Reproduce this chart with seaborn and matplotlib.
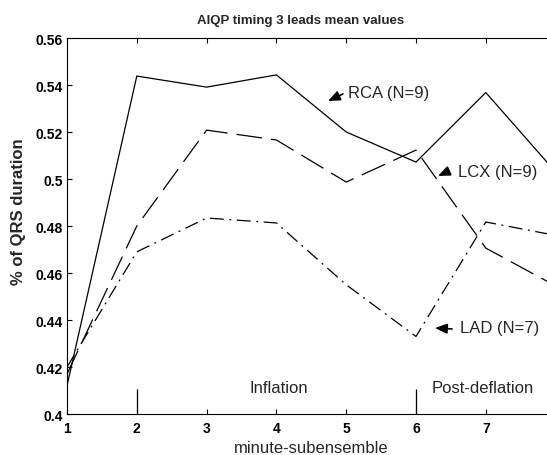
import numpy as np
import pandas as pd
import matplotlib
matplotlib.use("Agg")
import matplotlib.pyplot as plt
import seaborn as sns

# ---- data ----
minutes = [1, 2, 3, 4, 5, 6, 7, 8]
rca = [0.412, 0.5438, 0.5391, 0.5443, 0.520, 0.5072, 0.5368, 0.503]
lcx = [0.417, 0.480, 0.5208, 0.5166, 0.4987, 0.5123, 0.4706, 0.4545]
lad = [0.420, 0.469, 0.4834, 0.4813, 0.455, 0.433, 0.4817, 0.476]
series_names = ["RCA (N=9)", "LCX (N=9)", "LAD (N=7)"]
x_ticks = [1, 2, 3, 4, 5, 6, 7]
y_ticks = [0.40, 0.42, 0.44, 0.46, 0.48, 0.50, 0.52, 0.54, 0.56]
y_tick_labels = ["0.4", "0.42", "0.44", "0.46", "0.48", "0.5", "0.52", "0.54", "0.56"]
phase_marks = [2, 6]
phase_labels = ["Inflation", "Post-deflation"]
phase_label_x = [4.04, 6.95]

df = pd.DataFrame({
    "minute": minutes * 3,
    "value": rca + lcx + lad,
    "lead": [series_names[0]] * 8 + [series_names[1]] * 8 + [series_names[2]] * 8,
})

sns.set_theme(style="white")
plt.rcParams["font.family"] = ["Liberation Sans", "DejaVu Sans"]
plt.rcParams["lines.scale_dashes"] = False

fig = plt.figure(figsize=(5.47, 4.56), dpi=100)
W, H = 547, 456
ax = fig.add_axes([67 / W, (H - 415) / H, (555.6 - 67) / W, 376 / H])

sns.lineplot(
    data=df, x="minute", y="value", style="lead",
    dashes={series_names[0]: "", series_names[1]: (18.5, 6.5), series_names[2]: (10, 4, 1.4, 4)},
    color="black", linewidth=0.9, legend=False, ax=ax,
)

ax.set_xlim(1, 8)
ax.set_ylim(0.4, 0.56)
ax.set_xticks(x_ticks)
ax.set_xticklabels([str(t) for t in x_ticks])
ax.set_yticks(y_ticks)
ax.set_yticklabels(y_tick_labels)
for lbl in ax.get_xticklabels() + ax.get_yticklabels():
    lbl.set_fontweight("bold")
    lbl.set_fontsize(10)
ax.tick_params(axis="x", direction="in", length=3.5, width=0.8, top=True, bottom=True, pad=5, colors="black")
ax.tick_params(axis="y", direction="in", length=3.5, width=0.8, left=True, right=True, pad=3, colors="black")
for s in ax.spines.values():
    s.set_color("black")
    s.set_linewidth(0.8)

ax.set_xlabel("minute-subensemble", fontsize=12, labelpad=4)
ax.set_ylabel("% of QRS duration", fontsize=12, fontweight="bold")
ax.yaxis.set_label_coords(-0.083, 0.54)
fig.text(301 / W, 1 - 21 / H, "AIQP timing 3 leads mean values", ha="center", va="center",
         fontsize=9.5, fontweight="bold")

# phase markers
ax.vlines(phase_marks, 0.4, 0.4106, color="black", linewidth=0.9)
for lab, xx in zip(phase_labels, phase_label_x):
    ax.text(xx, 0.4111, lab, ha="center", va="center", fontsize=12)

# annotations
ann = [
    (series_names[0], (4.739, 0.5332), (4.954, 0.5362), (5.026, 0.5366)),
    (series_names[1], (6.315, 0.5013), (6.473, 0.5034), (6.602, 0.5034)),
    (series_names[2], (6.272, 0.4366), (6.516, 0.4362), (6.630, 0.4366)),
]
for name, head, tail, tpos in ann:
    ax.annotate("", xy=head, xytext=tail,
                arrowprops=dict(arrowstyle="-|>,head_length=0.6,head_width=0.25", color="black", lw=1.2,
                                shrinkA=0, shrinkB=0))
    ax.text(tpos[0], tpos[1], name, ha="left", va="center", fontsize=12)

fig.savefig("out.png", dpi=100)
